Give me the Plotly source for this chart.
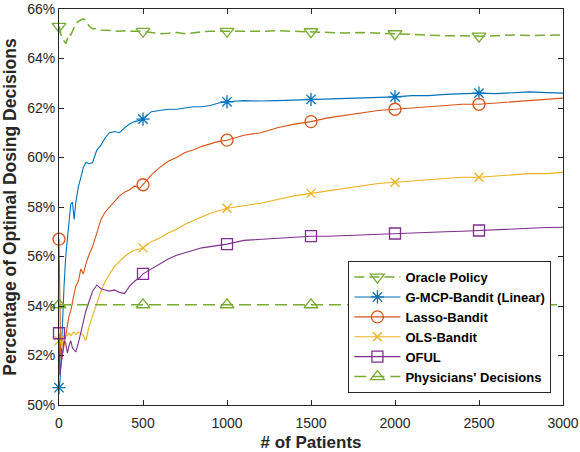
import plotly.graph_objects as go

# number of patients seen (x axis)
patients = [0, 5, 10, 15, 20, 30, 40, 50, 60, 70, 80, 90, 100, 115, 130, 145, 160, 180, 200, 225,
            250, 275, 300, 330, 360, 390, 420, 450, 480, 500, 550, 600, 650, 700, 750, 800, 850, 900, 950, 1000,
            1100, 1200, 1300, 1400, 1500, 1600, 1700, 1800, 1900, 2000, 2100, 2200, 2300, 2400, 2500,
            2600, 2700, 2800, 2900, 3000]

# % of optimal dosing decisions per policy
oracle = [65.3, 65.2, 65.0, 64.9, 64.8, 64.7, 64.6, 64.8, 65.0, 64.95, 65.1, 65.25, 65.4, 65.5, 65.55, 65.6, 65.55, 65.3, 65.2, 65.2,
          65.15, 65.15, 65.15, 65.12, 65.1, 65.12, 65.1, 65.1, 65.1, 65.1, 65.05, 65.0, 65.02, 65.05, 65.0, 65.05, 65.08, 65.1, 65.1, 65.1,
          65.08, 65.1, 65.12, 65.1, 65.08, 65.05, 65.03, 65.05, 65.02, 65.0, 64.98, 64.95, 64.92, 64.92, 64.9,
          64.92, 64.95, 64.93, 64.93, 64.95]
gmcp = [50.7, 50.9, 51.5, 52.5, 53.5, 54.8, 56.0, 56.8, 57.5, 58.1, 58.2, 57.5, 58.2, 58.8, 59.2, 59.6, 59.8, 59.75, 59.8, 60.3,
        60.5, 60.8, 61.0, 61.05, 61.0, 61.2, 61.35, 61.45, 61.5, 61.55, 61.85, 61.9, 61.95, 61.95, 62.0, 62.05, 62.05, 62.1, 62.2, 62.25,
        62.3, 62.28, 62.3, 62.32, 62.35, 62.35, 62.38, 62.4, 62.42, 62.45, 62.5, 62.5, 62.55, 62.58, 62.6,
        62.58, 62.6, 62.65, 62.62, 62.6]
lasso = [56.7, 54.0, 52.0, 51.8, 52.0, 52.3, 52.8, 53.2, 53.6, 53.8, 54.2, 54.5, 54.8, 55.0, 55.5, 55.3, 55.7, 56.1, 56.4, 57.0,
         57.5, 57.8, 58.0, 58.2, 58.45, 58.6, 58.7, 58.85, 58.75, 58.9, 59.3, 59.6, 59.85, 60.0, 60.2, 60.3, 60.45, 60.55, 60.65, 60.7,
         60.9, 61.0, 61.2, 61.35, 61.45, 61.6, 61.7, 61.8, 61.9, 61.95, 62.0, 62.05, 62.1, 62.15, 62.15,
         62.2, 62.25, 62.3, 62.35, 62.4]
ols = [52.6, 52.5, 52.7, 52.3, 52.6, 52.8, 52.9, 52.8, 52.9, 52.8, 52.9, 52.95, 52.85, 52.95, 52.9, 52.8, 52.6, 53.2, 53.6, 54.1,
       54.6, 55.0, 55.3, 55.6, 55.8, 56.0, 56.15, 56.25, 56.3, 56.35, 56.6, 56.75, 56.95, 57.1, 57.3, 57.45, 57.6, 57.75, 57.85, 57.95,
       58.05, 58.15, 58.3, 58.45, 58.55, 58.65, 58.75, 58.85, 58.95, 59.0, 59.05, 59.1, 59.15, 59.2, 59.2,
       59.25, 59.3, 59.35, 59.35, 59.4]
oful = [52.9, 51.2, 51.5, 51.8, 52.2, 52.6, 52.5, 52.1, 52.4, 52.6, 52.3, 52.2, 52.15, 52.5, 52.9, 53.3, 53.8, 54.2, 54.6, 54.85,
        54.7, 54.65, 54.6, 54.65, 54.55, 54.5, 54.8, 55.0, 55.15, 55.3, 55.5, 55.7, 55.9, 56.05, 56.15, 56.25, 56.35, 56.4, 56.45, 56.5,
        56.65, 56.7, 56.75, 56.8, 56.82, 56.82, 56.85, 56.88, 56.9, 56.93, 56.95, 56.97, 57.0, 57.02, 57.05,
        57.1, 57.12, 57.15, 57.17, 57.18]
physicians_x = [0, 500, 1000, 1500, 2000, 2500, 3000]
physicians = [54.05, 54.05, 54.05, 54.05, 54.05, 54.05, 54.05]

marker_x = [0, 500, 1000, 1500, 2000, 2500]
x_ticks = [0, 500, 1000, 1500, 2000, 2500, 3000]
y_ticks = [50, 52, 54, 56, 58, 60, 62, 64, 66]

series = [
    ("Oracle Policy", patients, oracle, "#77AC30", "triangle-down-open", 12, "10px,5px"),
    ("G-MCP-Bandit (Linear)", patients, gmcp, "#0072BD", "asterisk-open", 11, "solid"),
    ("Lasso-Bandit", patients, lasso, "#D95319", "circle-open", 12, "solid"),
    ("OLS-Bandit", patients, ols, "#EDB120", "x-thin-open", 9, "solid"),
    ("OFUL", patients, oful, "#7E2F8E", "square-open", 11, "solid"),
    ("Physicians' Decisions", physicians_x, physicians, "#77AC30", "triangle-up-open", 12, "12px,6px"),
]

fig = go.Figure()
for name, xs, ys, color, symbol, size, dash in series:
    width = 1.5 if dash != "solid" else 1.1
    fig.add_trace(go.Scatter(x=xs, y=ys, mode="lines", legendgroup=name, showlegend=False,
                             line=dict(color=color, width=width, dash=dash), hoverinfo="skip"))
    # markers every 500 patients; gaps keep isolated points so no extra line is drawn
    lookup = dict(zip(xs, ys))
    mx, my = [], []
    for m in marker_x:
        mx += [m, None]
        my += [lookup[m], None]
    fig.add_trace(go.Scatter(x=mx, y=my, mode="lines+markers", name=name, legendgroup=name,
                             connectgaps=False, cliponaxis=False,
                             line=dict(color=color, width=width, dash=dash),
                             marker=dict(symbol=symbol, size=size, color=color,
                                         line=dict(color=color, width=1.3))))

axis_style = dict(showline=True, linecolor="#262626", linewidth=1, mirror="ticks", automargin=False,
                  ticks="inside", ticklen=5, tickcolor="#262626", showgrid=False, zeroline=False,
                  tickfont=dict(family="Liberation Sans", size=14, color="#262626"))

fig.update_xaxes(range=[0, 3000], tickvals=x_ticks, ticklabelstandoff=5,
                 title=dict(text="# of Patients", standoff=11,
                            font=dict(family="Liberation Sans", size=17, color="#262626", weight="bold")),
                 **axis_style)
fig.update_yaxes(range=[50, 66], tickvals=y_ticks, ticktext=[f"{v}%" for v in y_ticks],
                 title=dict(text="Percentage of Optimal Dosing Decisions", standoff=6,
                            font=dict(family="Liberation Sans", size=17.5, color="#262626", weight="bold")),
                 **axis_style)

fig.update_layout(
    width=580, height=452,
    margin=dict(l=59, r=17, t=9, b=47),
    paper_bgcolor="white", plot_bgcolor="white",
    legend=dict(x=0.977, xanchor="right", y=0.030, yanchor="bottom",
                bgcolor="white", bordercolor="#262626", borderwidth=1,
                font=dict(family="Liberation Sans", size=13, color="black", weight="bold"),
                tracegroupgap=0, itemwidth=46),
)

# drop the page's default body margin so the figure sits at the window corner
fig.write_html("out.html", config={"displayModeBar": False},
               post_script="document.body.style.margin='0';")
